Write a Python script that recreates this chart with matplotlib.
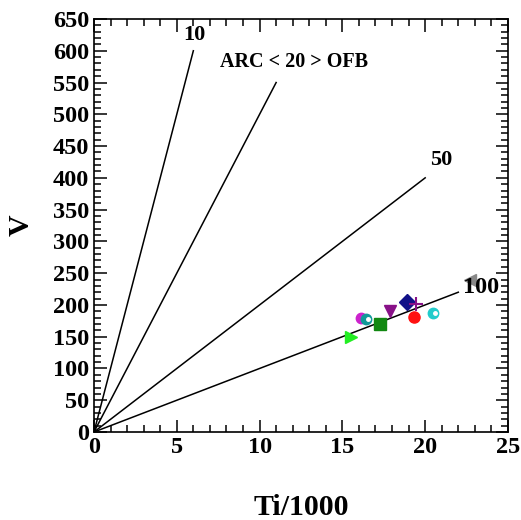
import matplotlib
matplotlib.use("Agg")
import matplotlib.pyplot as plt
from matplotlib.ticker import MultipleLocator

plt.rcParams['font.family'] = ['Liberation Serif', 'DejaVu Serif']
plt.rcParams['font.weight'] = 'bold'

# Ti/V reference lines: end points (Ti/1000, V)
ratio_labels = ["10", "ARC < 20 > OFB", "50", "100"]
line_end_ti = [6, 11, 20, 22]
line_end_v = [600, 550, 400, 220]
label_ti = [6.05, 12.1, 20.95, 23.4]
label_v = [625, 582, 428, 227]
label_size = [16, 14.5, 16, 17.5]

# samples
sample_ti = [15.5, 17.3, 16.15, 16.45, 17.9, 18.9, 19.45, 19.35, 20.5, 22.7]
sample_v = [150, 170, 179, 178, 191, 204, 202, 181, 188, 240]
sample_marker = [">", "s", "o", "o", "v", "D", "+", "o", "o", "<"]
sample_color = ["#22ee22", "#118811", "#cc22cc", "#119999", "#881188",
                "#111188", "#881188", "#ff1111", "#22cccc", "#888888"]

fig = plt.figure(figsize=(5.21, 5.20), dpi=100)
ax = fig.add_axes([0.1804, 0.1692, 0.7946, 0.7943])

for ti, v in zip(line_end_ti, line_end_v):
    ax.plot([0, ti], [0, v], color="black", lw=1.1)
for txt, x, y, s in zip(ratio_labels, label_ti, label_v, label_size):
    ax.text(x, y, txt, fontsize=s, fontweight="bold", ha="center", va="center")

for x, y, m, c in zip(sample_ti, sample_v, sample_marker, sample_color):
    if m == "+":
        ax.plot(x, y, m, color=c, ms=10, mew=1.5)
    elif m == "o" and c != "#ff1111":
        ax.plot(x, y, m, color=c, ms=7.5)
        ax.plot(x + 0.1, y, m, color="white", ms=2.5)
    else:
        ax.plot(x, y, m, color=c, ms=8)

ax.set_xlim(0, 25)
ax.set_ylim(0, 650)
ax.xaxis.set_major_locator(MultipleLocator(5))
ax.xaxis.set_minor_locator(MultipleLocator(1))
ax.yaxis.set_major_locator(MultipleLocator(50))
ax.yaxis.set_minor_locator(MultipleLocator(10))
ax.tick_params(which="both", direction="in", top=True, right=True, width=1.1,
               labelsize=17.5)
ax.tick_params(which="major", length=9)
ax.tick_params(which="minor", length=5)
for lab in ax.get_xticklabels() + ax.get_yticklabels():
    lab.set_fontweight("bold")
for sp in ax.spines.values():
    sp.set_linewidth(1.2)

ax.set_xlabel("Ti/1000", fontsize=21.5, fontweight="bold", labelpad=26)
ax.set_ylabel("V", fontsize=21.5, fontweight="bold", labelpad=13)

fig.savefig("out.png", dpi=100)
